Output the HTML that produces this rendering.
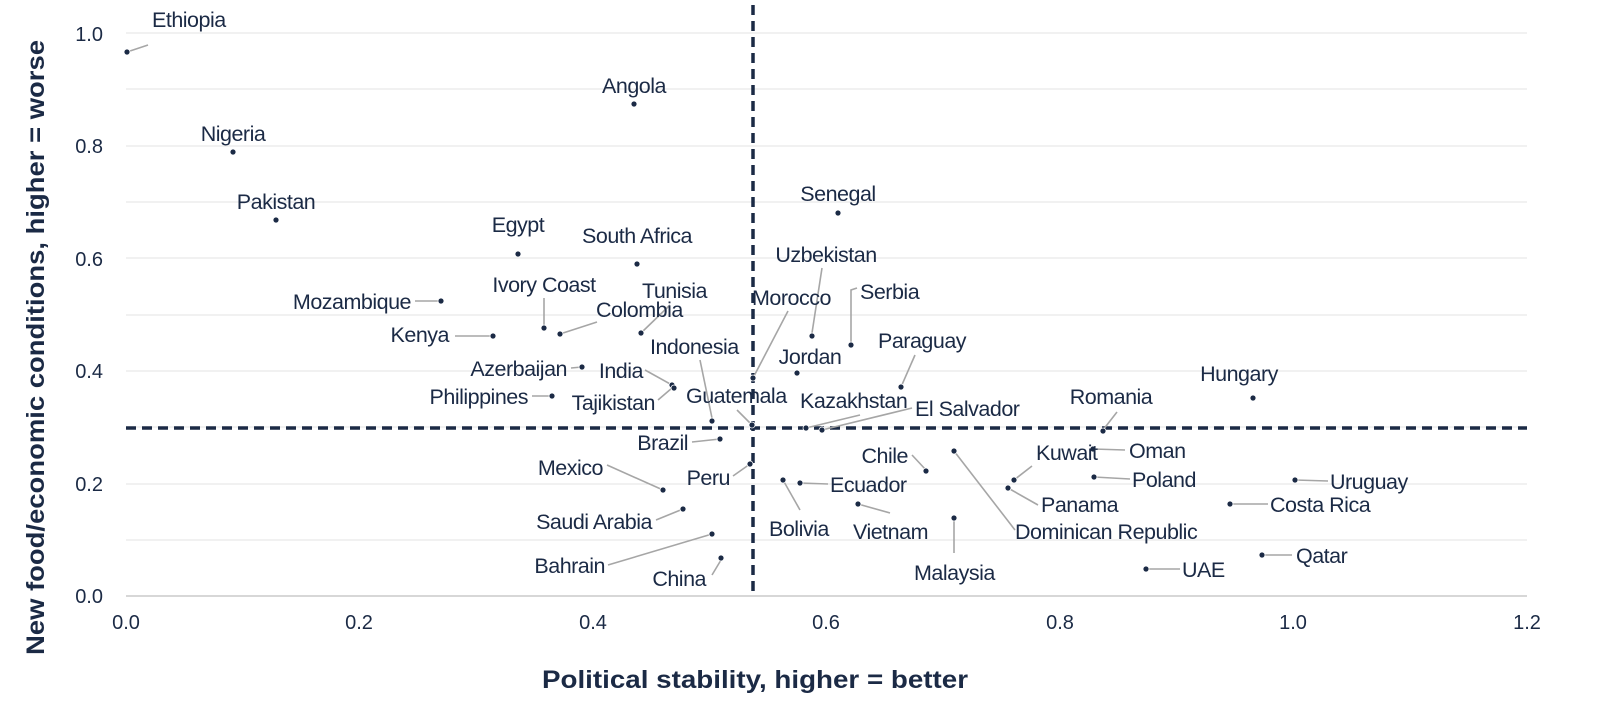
<!DOCTYPE html>
<html><head><meta charset="utf-8"><style>
html,body{margin:0;padding:0;background:#fff;}
svg{display:block;}
text{font-family:"Liberation Sans",Arial,sans-serif;fill:#1b2a45;}
.l{font-size:21.5px;letter-spacing:-0.5px;}
.t{font-size:20px;fill:#2a3550;}
.ld{stroke:#a6a6a6;stroke-width:1.6;fill:none;}
.g{stroke:#e3e3e3;stroke-width:1;}
</style></head><body>
<svg width="1600" height="727" viewBox="0 0 1600 727" xmlns="http://www.w3.org/2000/svg">
<g class="g">
<line x1="126" y1="33" x2="1527" y2="33"/><line x1="126" y1="89" x2="1527" y2="89"/>
<line x1="126" y1="146" x2="1527" y2="146"/><line x1="126" y1="202" x2="1527" y2="202"/>
<line x1="126" y1="258" x2="1527" y2="258"/><line x1="126" y1="315" x2="1527" y2="315"/>
<line x1="126" y1="371" x2="1527" y2="371"/><line x1="126" y1="427" x2="1527" y2="427"/>
<line x1="126" y1="484" x2="1527" y2="484"/><line x1="126" y1="540" x2="1527" y2="540"/>
</g>
<line x1="126" y1="596" x2="1527" y2="596" stroke="#bfbfbf" stroke-width="1.2"/>
<g class="t" text-anchor="end">
<text x="103" y="41">1.0</text><text x="103" y="153">0.8</text><text x="103" y="266">0.6</text>
<text x="103" y="378">0.4</text><text x="103" y="491">0.2</text><text x="103" y="603">0.0</text>
</g>
<g class="t" text-anchor="middle">
<text x="126" y="629">0.0</text><text x="359" y="629">0.2</text><text x="593" y="629">0.4</text>
<text x="826" y="629">0.6</text><text x="1060" y="629">0.8</text><text x="1293" y="629">1.0</text><text x="1527" y="629">1.2</text>
</g>
<text x="542" y="688" textLength="426" lengthAdjust="spacingAndGlyphs" style="font-size:25px;font-weight:bold">Political stability, higher = better</text>
<text transform="translate(44,655) rotate(-90)" textLength="615" lengthAdjust="spacingAndGlyphs" style="font-size:25px;font-weight:bold">New food/economic conditions, higher = worse</text>
<line x1="753" y1="5" x2="753" y2="596" stroke="#1b2a45" stroke-width="3.5" stroke-dasharray="10,6"/>
<line x1="126" y1="428" x2="1527" y2="428" stroke="#1b2a45" stroke-width="3.5" stroke-dasharray="10,6"/>
<g class="ld">
<path d="M130 51L148 45"/><path d="M812 333L822 268"/><path d="M415 301L441 301"/><path d="M544 298L544 325"/>
<path d="M560 334L597 322"/><path d="M641 333L670 305"/><path d="M851 345L851 290L857 288"/><path d="M753 378L788 311"/>
<path d="M455 336L490 336"/><path d="M700 360L712 418"/><path d="M901 387L915 355"/><path d="M571 368L582 367"/>
<path d="M645 370L672 385"/><path d="M532 396L552 396"/><path d="M658 400L672 388"/><path d="M737 410L752 425"/>
<path d="M806 428L860 415"/><path d="M822 430L912 408"/><path d="M1103 430L1117 412"/><path d="M692 442L720 439"/>
<path d="M1093 449L1125 450"/><path d="M912 455L926 470"/><path d="M1014 480L1032 466"/><path d="M607 465L663 490"/>
<path d="M733 476L750 464"/><path d="M783 480L800 510"/><path d="M800 483L828 484"/><path d="M1094 477L1130 479"/>
<path d="M1295 480L1328 481"/><path d="M1008 488L1038 505"/><path d="M954 451L1015 530"/><path d="M1230 504L1268 504"/>
<path d="M656 520L683 509"/><path d="M858 504L890 513"/><path d="M954 520L954 553"/><path d="M608 565L712 534"/>
<path d="M712 575L721 560"/><path d="M1262 555L1292 555"/><path d="M1146 569L1180 569"/>
</g>
<g fill="#1b2a45" stroke="#fff" stroke-width="0.8">
<circle cx="127" cy="52" r="3"/><circle cx="634" cy="104" r="3"/><circle cx="233" cy="152" r="3"/><circle cx="276" cy="220" r="3"/>
<circle cx="838" cy="213" r="3"/><circle cx="518" cy="254" r="3"/><circle cx="637" cy="264" r="3"/><circle cx="812" cy="336" r="3"/>
<circle cx="441" cy="301" r="3"/><circle cx="544" cy="328" r="3"/><circle cx="560" cy="334" r="3"/><circle cx="641" cy="333" r="3"/>
<circle cx="851" cy="345" r="3"/><circle cx="753" cy="378" r="3"/><circle cx="493" cy="336" r="3"/><circle cx="712" cy="421" r="3"/>
<circle cx="901" cy="387" r="3"/><circle cx="797" cy="373" r="3"/><circle cx="582" cy="367" r="3"/><circle cx="672" cy="385" r="3"/>
<circle cx="1253" cy="398" r="3"/><circle cx="552" cy="396" r="3"/><circle cx="674" cy="388" r="3"/><circle cx="752" cy="425" r="3"/>
<circle cx="806" cy="428" r="3"/><circle cx="822" cy="430" r="3"/><circle cx="1103" cy="431" r="3"/><circle cx="720" cy="439" r="3"/>
<circle cx="1093" cy="449" r="3"/><circle cx="926" cy="471" r="3"/><circle cx="1014" cy="480" r="3"/><circle cx="663" cy="490" r="3"/>
<circle cx="750" cy="464" r="3"/><circle cx="783" cy="480" r="3"/><circle cx="800" cy="483" r="3"/><circle cx="1094" cy="477" r="3"/>
<circle cx="1295" cy="480" r="3"/><circle cx="1008" cy="488" r="3"/><circle cx="954" cy="451" r="3"/><circle cx="1230" cy="504" r="3"/>
<circle cx="683" cy="509" r="3"/><circle cx="858" cy="504" r="3"/><circle cx="954" cy="518" r="3"/><circle cx="712" cy="534" r="3"/>
<circle cx="721" cy="558" r="3"/><circle cx="1262" cy="555" r="3"/><circle cx="1146" cy="569" r="3"/>
</g>
<g class="l">
<text x="152" y="27">Ethiopia</text>
<g text-anchor="middle">
<text x="634" y="93">Angola</text><text x="233" y="141">Nigeria</text><text x="276" y="209">Pakistan</text>
<text x="838" y="201">Senegal</text><text x="518" y="232">Egypt</text><text x="637" y="243">South Africa</text>
<text x="826" y="262">Uzbekistan</text><text x="544" y="292">Ivory Coast</text><text x="810" y="364">Jordan</text>
<text x="1239" y="381">Hungary</text><text x="1111" y="404">Romania</text>
</g>
<text x="596" y="317">Colombia</text><text x="642" y="298">Tunisia</text><text x="860" y="299">Serbia</text>
<text x="752" y="305">Morocco</text><text x="650" y="354">Indonesia</text><text x="878" y="348">Paraguay</text>
<text x="686" y="403">Guatemala</text><text x="800" y="408">Kazakhstan</text><text x="915" y="416">El Salvador</text>
<text x="1129" y="458">Oman</text><text x="1036" y="460">Kuwait</text><text x="830" y="492">Ecuador</text>
<text x="1132" y="487">Poland</text><text x="1330" y="489">Uruguay</text><text x="1041" y="512">Panama</text>
<text x="1015" y="539">Dominican Republic</text><text x="1270" y="512">Costa Rica</text><text x="769" y="536">Bolivia</text>
<text x="853" y="539">Vietnam</text><text x="914" y="580">Malaysia</text><text x="1296" y="563">Qatar</text>
<text x="1182" y="577">UAE</text>
<g text-anchor="end">
<text x="411" y="309">Mozambique</text><text x="449" y="342">Kenya</text><text x="567" y="376">Azerbaijan</text>
<text x="643" y="378">India</text><text x="528" y="404">Philippines</text><text x="655" y="410">Tajikistan</text>
<text x="688" y="450">Brazil</text><text x="908" y="463">Chile</text><text x="603" y="475">Mexico</text>
<text x="730" y="485">Peru</text><text x="652" y="529">Saudi Arabia</text><text x="605" y="573">Bahrain</text>
<text x="706" y="586">China</text>
</g>
</g>
</svg>
</body></html>
